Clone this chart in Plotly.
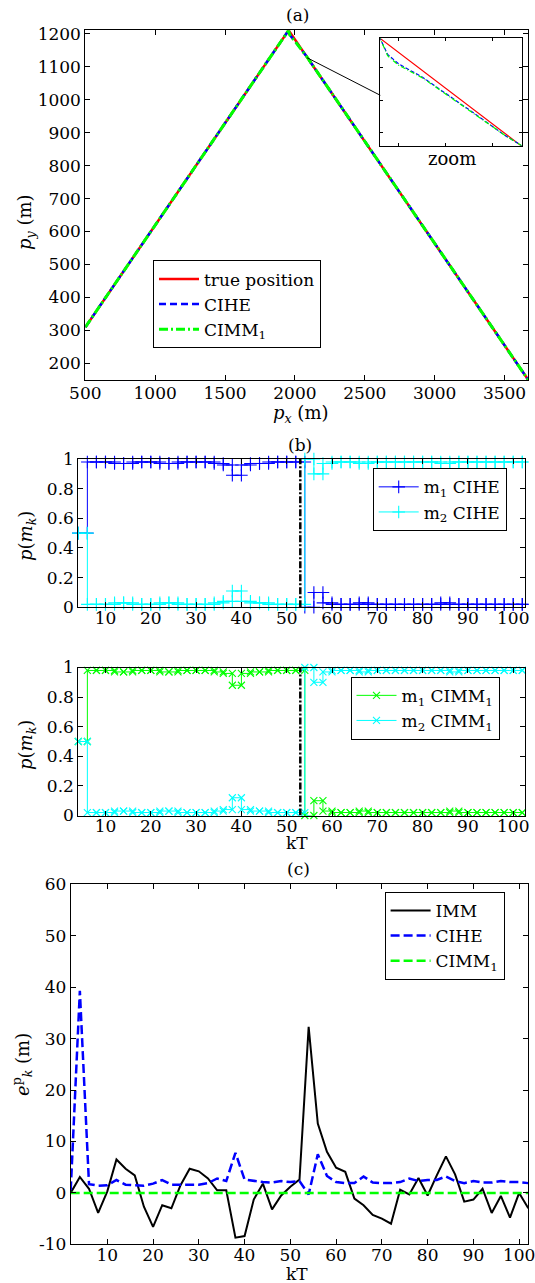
import plotly.graph_objects as go

W, H = 535, 1283
FONT = "DejaVu Serif"

# ---------------- Panel (a): trajectories ----------------
true_px = [500, 1955, 3670]
true_py = [310, 1210, 150]
cihe_px = [500, 1955, 1962, 1972, 1994, 2020, 2046, 2070, 2085, 3670]
cihe_py = [310, 1210, 1198, 1191, 1181, 1166.5, 1151.5, 1137.5, 1130, 150]
cimm_px = [500, 1955, 1962, 1972, 1994, 2020, 2046, 2070, 2085, 3670]
cimm_py = [310, 1210, 1197, 1190, 1180.5, 1166, 1151, 1137.5, 1130, 150]

# ---------------- Panel (b): model probabilities ----------------
k_b = list(range(4, 103, 2))
m1_cihe = [0.50, 0.98, 0.98, 0.98, 0.97, 0.97, 0.98, 0.98, 0.98, 0.97, 0.97, 0.98, 0.98,
           0.98, 0.98, 0.97, 0.96, 0.89, 0.96, 0.97, 0.97, 0.98, 0.98, 0.98, 0.98,
           0.00, 0.10, 0.03, 0.02, 0.02, 0.02, 0.03, 0.02, 0.02, 0.02, 0.02, 0.02, 0.02,
           0.02, 0.02, 0.03, 0.02, 0.02, 0.02, 0.02, 0.02, 0.02, 0.02, 0.02, 0.02]
m2_cihe = [0.50, 0.02, 0.02, 0.02, 0.03, 0.03, 0.02, 0.02, 0.02, 0.03, 0.03, 0.02, 0.02,
           0.02, 0.02, 0.03, 0.04, 0.11, 0.04, 0.03, 0.03, 0.02, 0.02, 0.02, 0.02,
           1.00, 0.90, 0.97, 0.98, 0.98, 0.98, 0.97, 0.98, 0.98, 0.98, 0.98, 0.98, 0.98,
           0.98, 0.98, 0.97, 0.98, 0.98, 0.98, 0.98, 0.98, 0.98, 0.98, 0.98, 0.98]
m1_cimm = [0.50, 0.98, 0.98, 0.98, 0.97, 0.97, 0.98, 0.98, 0.98, 0.97, 0.97, 0.98, 0.98,
           0.98, 0.98, 0.97, 0.96, 0.88, 0.96, 0.97, 0.97, 0.98, 0.98, 0.98, 0.98,
           0.00, 0.10, 0.03, 0.02, 0.02, 0.02, 0.03, 0.02, 0.02, 0.02, 0.02, 0.02, 0.02,
           0.02, 0.02, 0.02, 0.03, 0.02, 0.02, 0.02, 0.02, 0.02, 0.02, 0.02, 0.02]
m2_cimm = [0.50, 0.02, 0.02, 0.02, 0.03, 0.03, 0.02, 0.02, 0.02, 0.03, 0.03, 0.02, 0.02,
           0.02, 0.02, 0.03, 0.04, 0.12, 0.04, 0.03, 0.03, 0.02, 0.02, 0.02, 0.02,
           1.00, 0.90, 0.97, 0.98, 0.98, 0.98, 0.97, 0.98, 0.98, 0.98, 0.98, 0.98, 0.98,
           0.98, 0.98, 0.98, 0.97, 0.98, 0.98, 0.98, 0.98, 0.98, 0.98, 0.98, 0.98]
switch_k = [53, 53]
switch_p = [0, 1]

# ---------------- Panel (c): position errors ----------------
k_c = list(range(2, 103, 2))
err_imm = [0.0, 3.1, 0.8, -3.9, 0.3, 6.5, 4.7, 3.4, -2.7, -6.6, -2.4, -3.0, 1.5, 4.7, 4.2,
           2.8, 0.5, 0.5, -8.7, -8.4, -1.3, 1.8, -3.2, -0.5, 1.2, 2.6, 32.3, 13.5, 8.0, 4.9,
           4.1, -1.1, -2.4, -4.3, -5.0, -6.0, 0.6, -0.3, 2.9, -0.5, 3.4, 7.1, 3.6, -1.7,
           -1.3, 0.8, -3.9, -0.6, -4.8, 0.0, -3.0]
err_cihe = [0.5, 39.3, 1.7, 1.4, 1.5, 2.5, 1.6, 1.5, 1.4, 1.8, 2.5, 1.6, 1.6, 1.6, 1.6,
            1.9, 2.8, 2.3, 7.8, 2.6, 2.3, 2.1, 2.0, 2.3, 2.1, 2.3, -0.3, 7.5, 3.3, 2.1,
            1.9, 1.9, 3.2, 2.0, 1.9, 1.9, 2.1, 2.8, 2.3, 2.5, 2.5, 3.2, 2.3, 1.9, 2.3,
            2.0, 2.0, 2.3, 2.1, 2.1, 1.9]
err_cimm = [0.0, 0.0, 0.0, 0.0, 0.0, 0.0, 0.0, 0.0, 0.0, 0.0, 0.0, 0.0, 0.0, 0.0, 0.0,
            0.0, 0.0, 0.0, 0.0, 0.0, 0.0, 0.0, 0.0, 0.0, 0.0, 0.0, 0.0, 0.0, 0.0, 0.0,
            0.0, 0.0, 0.0, 0.0, 0.0, 0.0, 0.0, 0.0, 0.0, 0.0, 0.0, 0.0, 0.0, 0.0, 0.0,
            0.0, 0.0, 0.0, 0.0, 0.0, 0.0]
yticks_c = [-10, 0, 10, 20, 30, 40, 50, 60]
ytext_c = ["-10", "0", "10", "20", "30", "40", "50", "60"]

RED, BLUE, GREEN, CYAN = "#FF0000", "#0000FF", "#00FF00", "#00FFFF"


def stairs(x, y):
    sx, sy = [], []
    for i in range(len(x) - 1):
        sx += [x[i], x[i + 1]]
        sy += [y[i], y[i]]
    sx.append(x[-1])
    sy.append(y[-1])
    return sx, sy


def px(v):
    return v / W


def py(v):
    return 1 - v / H


fig = go.Figure()

# panel (a) main + inset
for ax in ["", "5"]:
    show = ax == ""
    fig.add_trace(go.Scatter(x=true_px, y=true_py, mode="lines", name="true position",
                             line=dict(color=RED, width=2.5 if show else 1.2),
                             xaxis="x" + ax, yaxis="y" + ax, showlegend=show, legend="legend"))
    fig.add_trace(go.Scatter(x=cihe_px, y=cihe_py, mode="lines", name="CIHE",
                             line=dict(color=BLUE, width=2.5 if show else 1.2,
                                       dash="7px,4px" if show else "4px,2px"),
                             xaxis="x" + ax, yaxis="y" + ax, showlegend=show, legend="legend"))
    fig.add_trace(go.Scatter(x=cimm_px, y=cimm_py, mode="lines", name="CIMM<sub>1</sub>",
                             line=dict(color=GREEN, width=3 if show else 1.2,
                                       dash="9px,3px,2px,3px" if show else "5px,2px,1px,2px"),
                             xaxis="x" + ax, yaxis="y" + ax, showlegend=show, legend="legend"))

# panel (b) top
sx, sy = stairs(k_b, m1_cihe)
fig.add_trace(go.Scatter(x=sx, y=sy, mode="lines+markers", name="m<sub>1</sub> CIHE",
                         line=dict(color=BLUE, width=1),
                         marker=dict(symbol="cross-thin", size=9, line=dict(width=1.1, color=BLUE)),
                         xaxis="x2", yaxis="y2", legend="legend2", cliponaxis=False))
sx, sy = stairs(k_b, m2_cihe)
fig.add_trace(go.Scatter(x=sx, y=sy, mode="lines+markers", name="m<sub>2</sub> CIHE",
                         line=dict(color=CYAN, width=1),
                         marker=dict(symbol="cross-thin", size=9, line=dict(width=1.1, color=CYAN)),
                         xaxis="x2", yaxis="y2", legend="legend2", cliponaxis=False))
fig.add_trace(go.Scatter(x=switch_k, y=switch_p, mode="lines", showlegend=False,
                         line=dict(color="black", width=2.5, dash="7px,2px,2px,2px"),
                         xaxis="x2", yaxis="y2"))

# panel (b) bottom
sx, sy = stairs(k_b, m1_cimm)
fig.add_trace(go.Scatter(x=sx, y=sy, mode="lines+markers", name="m<sub>1</sub> CIMM<sub>1</sub>",
                         line=dict(color=GREEN, width=1),
                         marker=dict(symbol="x-thin", size=7, line=dict(width=1.1, color=GREEN)),
                         xaxis="x3", yaxis="y3", legend="legend3", cliponaxis=False))
sx, sy = stairs(k_b, m2_cimm)
fig.add_trace(go.Scatter(x=sx, y=sy, mode="lines+markers", name="m<sub>2</sub> CIMM<sub>1</sub>",
                         line=dict(color=CYAN, width=1),
                         marker=dict(symbol="x-thin", size=7, line=dict(width=1.1, color=CYAN)),
                         xaxis="x3", yaxis="y3", legend="legend3", cliponaxis=False))
fig.add_trace(go.Scatter(x=switch_k, y=switch_p, mode="lines", showlegend=False,
                         line=dict(color="black", width=2.5, dash="7px,2px,2px,2px"),
                         xaxis="x3", yaxis="y3"))

# panel (c)
fig.add_trace(go.Scatter(x=k_c, y=err_imm, mode="lines", name="IMM",
                         line=dict(color="black", width=2), xaxis="x4", yaxis="y4", legend="legend4"))
fig.add_trace(go.Scatter(x=k_c, y=err_cihe, mode="lines", name="CIHE",
                         line=dict(color=BLUE, width=2.5, dash="9px,4px"), xaxis="x4", yaxis="y4",
                         legend="legend4"))
fig.add_trace(go.Scatter(x=k_c, y=err_cimm, mode="lines", name="CIMM<sub>1</sub>",
                         line=dict(color=GREEN, width=2.5, dash="9px,4px"), xaxis="x4", yaxis="y4",
                         legend="legend4"))

tickfont = dict(family=FONT, size=17, color="black")
common = dict(showline=True, linecolor="black", linewidth=1, mirror="ticks", ticks="inside",
              ticklen=5, tickcolor="black", showgrid=False, zeroline=False, tickfont=tickfont,
              automargin=False)
xcommon = dict(common, ticklabeloverflow="allow")
inset_common = dict(showticklabels=False, showline=True, linecolor="black", mirror="ticks",
                    ticks="inside", ticklen=3, tickcolor="black", showgrid=False,
                    zeroline=False, automargin=False)

lay = dict(
    template="none",
    width=W, height=H, margin=dict(l=0, r=0, t=0, b=0, autoexpand=False),
    paper_bgcolor="white", plot_bgcolor="white",
    font=dict(family=FONT, size=17, color="black"),
    xaxis=dict(domain=[px(85.3), px(528.3)], range=[500, 3670], dtick=500, tick0=500,
               anchor="y", ticklabelstandoff=-2, **xcommon),
    yaxis=dict(domain=[py(380), py(30.3)], range=[150, 1210], dtick=100, tick0=200,
               anchor="x", **common),
    xaxis2=dict(domain=[px(78.3), px(525)], range=[4, 102.6], dtick=10, tick0=10,
                anchor="y2", ticklabelstandoff=-5, **xcommon),
    yaxis2=dict(domain=[py(607.3), py(459)], range=[0, 1], dtick=0.2, anchor="x2", **common),
    xaxis3=dict(domain=[px(78.3), px(525)], range=[4, 102.6], dtick=10, tick0=10,
                anchor="y3", ticklabelstandoff=-5, **xcommon),
    yaxis3=dict(domain=[py(815.5), py(667.5)], range=[0, 1], dtick=0.2, anchor="x3", **common),
    xaxis4=dict(domain=[px(70.7), px(528.3)], range=[2, 102], dtick=10, tick0=10,
                anchor="y4", ticklabelstandoff=-5, **xcommon),
    yaxis4=dict(domain=[py(1244.3), py(884.4)], range=[-10, 60], tickvals=yticks_c,
                ticktext=ytext_c, anchor="x4", **common),
    xaxis5=dict(domain=[px(380), px(521.7)], range=[1955, 2085], tickvals=[1972, 2015, 2058],
                anchor="y5", **inset_common),
    yaxis5=dict(domain=[py(145.7), py(38.3)], range=[1130, 1210], tickvals=[1140, 1164, 1188],
                anchor="x5", **inset_common),
)
legend_common = dict(bgcolor="white", bordercolor="black", borderwidth=1,
                     font=dict(family=FONT, size=17, color="black"),
                     xanchor="left", yanchor="top", tracegroupgap=0, itemwidth=40)
lay["legend"] = dict(x=px(153), y=py(260.4), **legend_common)
lay["legend2"] = dict(x=px(372.7), y=py(468.3), **legend_common)
lay["legend3"] = dict(x=px(350.5), y=py(676.8), **legend_common)
lay["legend4"] = dict(x=px(384.6), y=py(891.9), **legend_common)
fig.update_layout(**lay)


def label(text, x, y, angle=0, size=17):
    fig.add_annotation(text=text, x=px(x), y=py(y), xref="paper", yref="paper",
                       showarrow=False, textangle=angle, xanchor="center", yanchor="middle",
                       font=dict(family=FONT, size=size, color="black"))


label("(a)", 297, 15)
label("<i>p<sub>x</sub></i> (m)", 300, 414, size=18)
label("<i>p<sub>y</sub></i> (m)", 26, 222, angle=-90, size=18)
label("zoom", 452, 158, size=18)
label("(b)", 300, 445)
label("<i>p</i>(<i>m<sub>k</sub></i>)", 27, 536, angle=-90, size=18)
label("<i>p</i>(<i>m<sub>k</sub></i>)", 27, 745, angle=-90, size=18)
label("kT", 297, 843)
label("(c)", 298, 869)
label("<i>e</i><sup>p</sup><sub><i>k</i></sub> (m)", 22, 1065, angle=-90, size=18)
label("kT", 297, 1274)

# connector from the zoomed spot to the inset
fig.add_shape(type="line", xref="x", yref="y", x0=2086, y0=1127, x1=2611, y1=1013,
              line=dict(color="black", width=1))

fig.write_html("out.html", config={"displayModeBar": False},
               post_script="document.body.style.margin='0';")
